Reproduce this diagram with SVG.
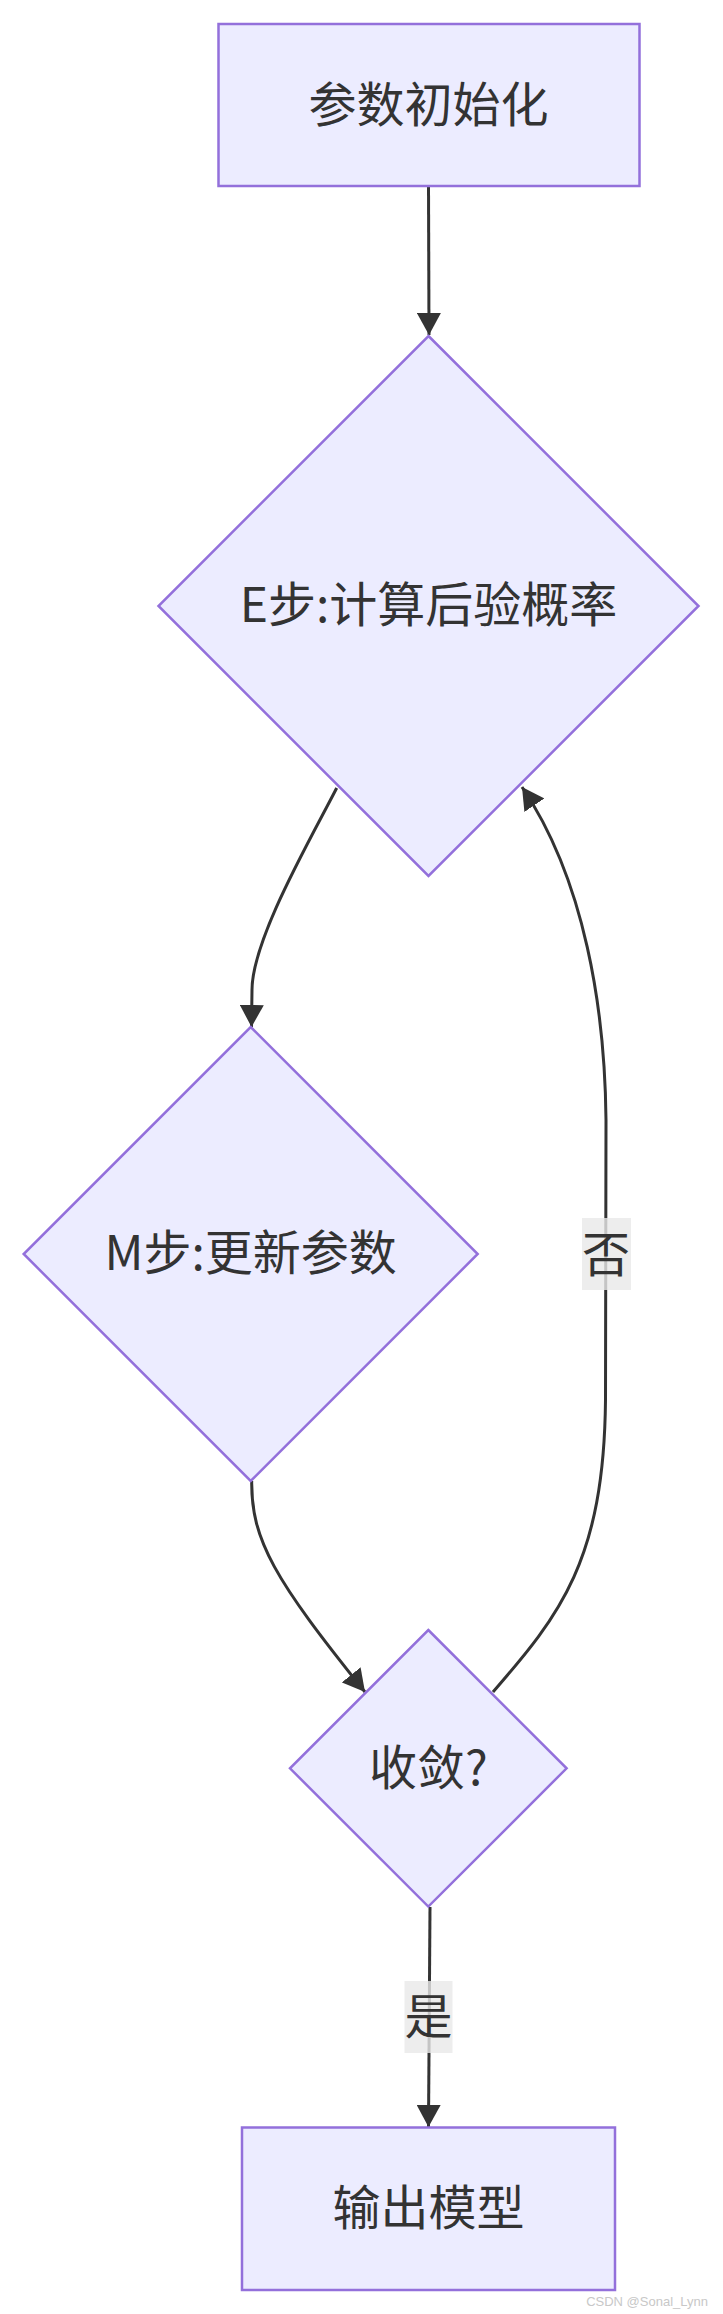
<svg xmlns="http://www.w3.org/2000/svg" width="723" height="2314" viewBox="0 0 723 2314">
<style>
.node{fill:#ECECFF;stroke:#9370DB;stroke-width:2.5}
.lbl{font-family:"Noto Sans CJK SC","Noto Sans",sans-serif;font-size:48px;fill:#333333;text-anchor:middle}
.edge{fill:none;stroke:#333333;stroke-width:3}
.ebg{fill:#e8e8e8;fill-opacity:0.8}
</style>
<defs>
<marker id="arrow" markerUnits="userSpaceOnUse" viewBox="0 0 22 24" refX="22" refY="12" markerWidth="22" markerHeight="24" orient="auto">
<path d="M0,0 L22,12 L0,24 z" fill="#333333"/>
</marker>
</defs>
<rect width="723" height="2314" fill="#ffffff"/>
<g id="edges">
<path class="edge" d="M428.5,186 L429,335" marker-end="url(#arrow)"/>
<path class="edge" d="M336.7,788 C310,840 252,940 252,990 L251.5,1027" marker-end="url(#arrow)"/>
<path class="edge" d="M251.7,1481 C251,1540 275,1580 365,1692" marker-end="url(#arrow)"/>
<path class="edge" d="M493,1692 C560,1615 604,1560 605.5,1400 L606,1120 C605,1010 585,880 522,787" marker-end="url(#arrow)"/>
<path class="edge" d="M430,1907 L428.5,2127" marker-end="url(#arrow)"/>
</g>
<g id="edge-labels">
<g id="label-no">
<rect class="ebg" x="582" y="1218" width="49" height="72"/>
<text class="lbl" x="606" y="1272">否</text>
</g>
<g id="label-yes">
<rect class="ebg" x="404.5" y="1981" width="48" height="72"/>
<text class="lbl" x="428.5" y="2034">是</text>
</g>
</g>
<g id="init">
<rect class="node" x="218.5" y="24" width="421" height="162"/>
<text class="lbl" x="428.5" y="122">参数初始化</text>
</g>
<g id="estep">
<polygon class="node" points="428.5,336 698.5,606 428.5,876 158.5,606"/>
<text class="lbl" x="428.5" y="622">E步:计算后验概率</text>
</g>
<g id="mstep">
<polygon class="node" points="250.7,1027 477.7,1254 250.7,1481 23.7,1254"/>
<text class="lbl" x="250.7" y="1270">M步:更新参数</text>
</g>
<g id="converge">
<polygon class="node" points="428.3,1630 566.6,1768.3 428.3,1906.6 290,1768.3"/>
<text class="lbl" x="428.3" y="1785">收敛?</text>
</g>
<g id="output">
<rect class="node" x="242" y="2127.5" width="373" height="162.5"/>
<text class="lbl" x="428.5" y="2225">输出模型</text>
</g>
<text x="708" y="2306" font-family="Liberation Sans, sans-serif" font-size="13" fill="#c8c8c8" text-anchor="end">CSDN @Sonal_Lynn</text>
</svg>
